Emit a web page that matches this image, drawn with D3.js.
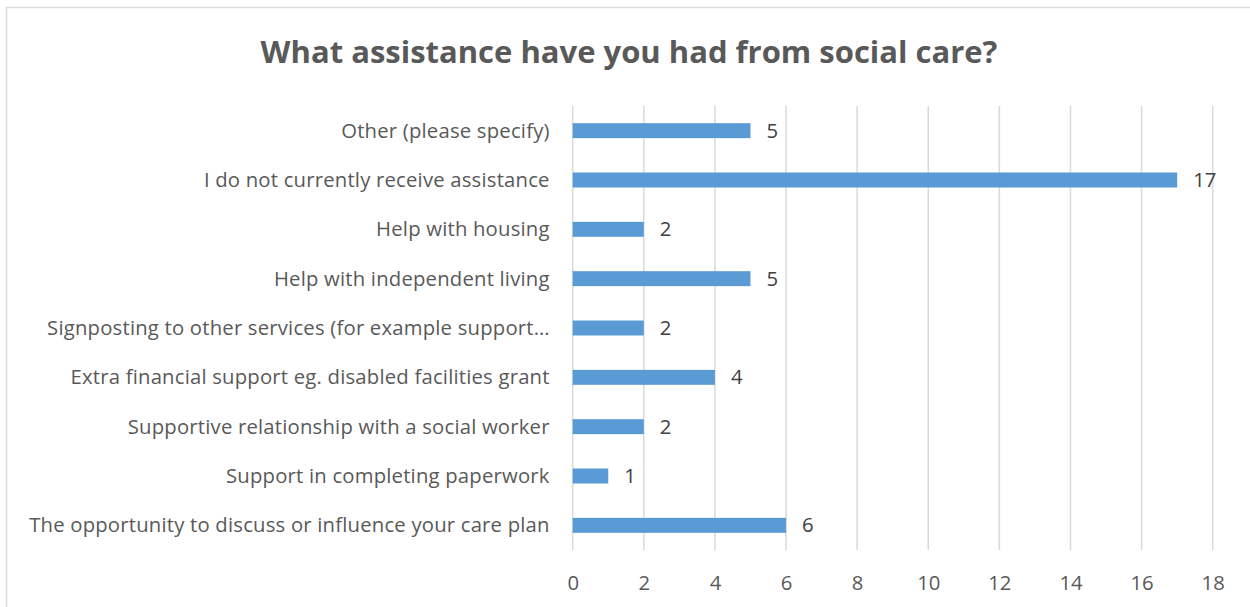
<!DOCTYPE html>
<html>
<head>
<meta charset="utf-8">
<script src="https://cdn.jsdelivr.net/npm/d3@7"></script>
<style>
  html, body { margin: 0; padding: 0; background: #fff; }
  svg { display: block; }
</style>
</head>
<body>
<svg id="chart" width="1250" height="607"></svg>
<script>
// Survey responses, listed top to bottom as shown
const categories = [
  "Other (please specify)",
  "I do not currently receive assistance",
  "Help with housing",
  "Help with independent living",
  "Signposting to other services (for example support\u2026",
  "Extra financial support eg. disabled facilities grant",
  "Supportive relationship with a social worker",
  "Support in completing paperwork",
  "The opportunity to discuss or influence your care plan"
];
const values = [5, 17, 2, 5, 2, 4, 2, 1, 6];
const xTicks = [0, 2, 4, 6, 8, 10, 12, 14, 16, 18];
const title = "What assistance have you had from social care?";

const svg = d3.select("#chart");
const font = "'Open Sans', Lato, sans-serif";
const textColor = "#595959";
const labelSize = 20.3;
const labelSpacing = "0.2px";

// Outer chart frame
svg.append("rect")
  .attr("x", 6.5).attr("y", 7.5)
  .attr("width", 1260).attr("height", 620)
  .attr("fill", "#fff")
  .attr("stroke", "#d9d9d9").attr("stroke-width", 1.5);

const plot = { left: 572.7, right: 1212.7, top: 106, bottom: 550 };

const x = d3.scaleLinear().domain([0, 18]).range([plot.left, plot.right]);
const y = d3.scaleBand()
  .domain(categories)
  .range([plot.top, plot.bottom])
  .paddingInner(0.696)
  .paddingOuter(0.348);

// Title
svg.append("text")
  .attr("x", 629).attr("y", 63)
  .attr("text-anchor", "middle")
  .attr("font-family", font)
  .attr("font-weight", "bold")
  .attr("font-size", 31)
  .attr("fill", textColor)
  .text(title);

// Vertical gridlines
svg.append("g")
  .selectAll("line")
  .data(xTicks)
  .join("line")
  .attr("x1", d => x(d)).attr("x2", d => x(d))
  .attr("y1", plot.top).attr("y2", plot.bottom)
  .attr("stroke", "#d9d9d9").attr("stroke-width", 1.5);

// X axis tick labels
const xAxis = d3.axisBottom(x).tickValues(xTicks).tickSize(0).tickPadding(0);
const gx = svg.append("g")
  .attr("transform", `translate(0,${plot.bottom})`)
  .call(xAxis);
gx.select(".domain").remove();
gx.selectAll("text")
  .attr("dy", null)
  .attr("y", 40)
  .attr("font-family", font)
  .attr("font-size", labelSize)
  .attr("fill", textColor);

// Category labels
const yAxis = d3.axisLeft(y).tickSize(0).tickPadding(23);
const gy = svg.append("g")
  .attr("transform", `translate(${plot.left},0)`)
  .call(yAxis);
gy.select(".domain").remove();
gy.selectAll("text")
  .attr("font-family", font)
  .attr("font-size", labelSize)
  .attr("letter-spacing", labelSpacing)
  .attr("fill", textColor)
  .attr("dy", "0.35em");

// Bars
svg.append("g")
  .selectAll("rect")
  .data(values)
  .join("rect")
  .attr("x", x(0))
  .attr("y", (d, i) => y(categories[i]))
  .attr("width", d => x(d) - x(0))
  .attr("height", y.bandwidth())
  .attr("fill", "#5b9bd5");

// Value labels
svg.append("g")
  .selectAll("text")
  .data(values)
  .join("text")
  .attr("x", d => x(d) + 16)
  .attr("y", (d, i) => y(categories[i]) + y.bandwidth() / 2)
  .attr("dy", "0.35em")
  .attr("font-family", font)
  .attr("font-size", labelSize)
  .attr("fill", "#404040")
  .text(d => d);
</script>
</body>
</html>
